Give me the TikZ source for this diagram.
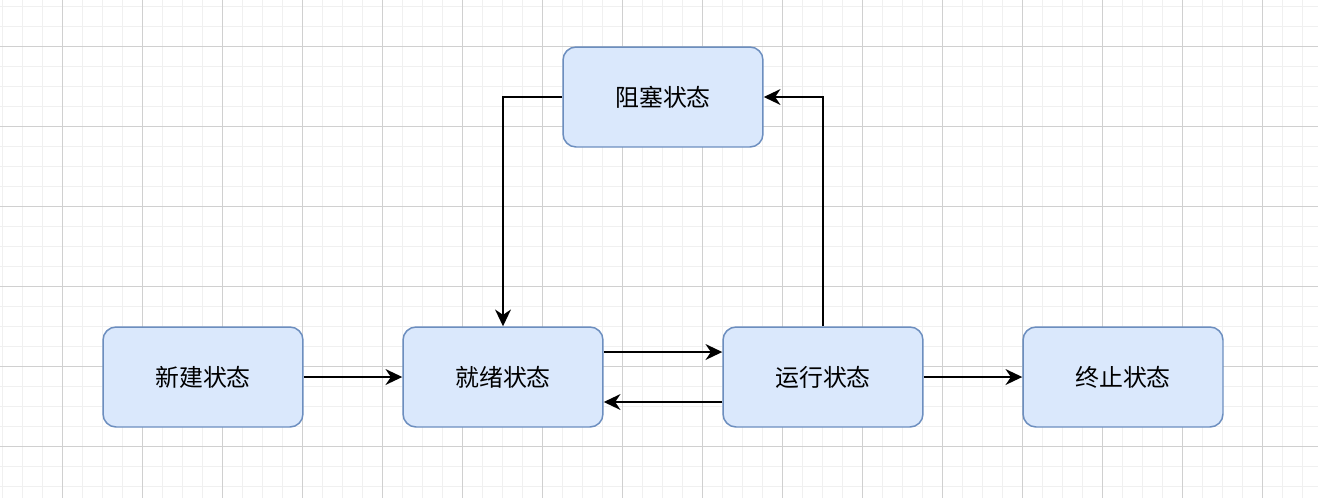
\documentclass[tikz,border=0pt]{standalone}
\usepackage{fontspec}
\newfontfamily\cjk{Noto Sans CJK SC}
\usetikzlibrary{arrows.meta}

\definecolor{boxfill}{HTML}{DAE8FC}
\definecolor{boxline}{HTML}{6C8EBF}
\definecolor{gridminor}{HTML}{F0F0F0}
\definecolor{gridmajor}{HTML}{D0D0D0}

\tikzset{
  state/.style = {shape = rectangle, draw = boxline, fill = boxfill,
    line width = 0.85pt, rounded corners = 0.26cm,
    minimum width = 4cm, minimum height = 2cm,
    font = \cjk\fontsize{13.6}{16}\selectfont},
  trans/.style = {line width = 1pt, draw = black,
    -{Stealth[length = 9.5pt, width = 9pt, inset = 3pt]}},
}

\begin{document}
\begin{tikzpicture}[x = 0.02cm, y = -0.02cm]
        \useasboundingbox (0, 0) rectangle (1318, 498);

        % ------------------------------------------------------------------------
        % Grid
        \foreach \gx in {2, 22, ..., 1318} {
          \draw[gridminor, line width = 0.55pt] (\gx, 0) -- (\gx, 498);
        }
        \foreach \gy in {6, 26, ..., 498} {
          \draw[gridminor, line width = 0.55pt] (0, \gy) -- (1318, \gy);
        }
        \foreach \gx in {62, 142, ..., 1318} {
          \draw[gridmajor, line width = 0.55pt] (\gx, 0) -- (\gx, 498);
        }
        \foreach \gy in {46, 126, ..., 498} {
          \draw[gridmajor, line width = 0.55pt] (0, \gy) -- (1318, \gy);
        }

        % ------------------------------------------------------------------------
        % States
        \node[state] at ( 203, 377) (new)   {新建状态};
        \node[state] at ( 503, 377) (ready) {就绪状态};
        \node[state] at ( 823, 377) (run)   {运行状态};
        \node[state] at (1123, 377) (end)   {终止状态};
        \node[state] at ( 663,  97) (block) {阻塞状态};

        % ------------------------------------------------------------------------
        % Transitions
        \draw[trans] (new) -- (ready);
        \draw[trans] ([yshift = 0.5cm]ready.east) -- ([yshift = 0.5cm]run.west);
        \draw[trans] ([yshift = -0.5cm]run.west) -- ([yshift = -0.5cm]ready.east);
        \draw[trans] (run) -- (end);
        \draw[trans] (run.north) |- (block.east);
        \draw[trans] (block.west) -| (ready.north);
      \end{tikzpicture}
\end{document}
